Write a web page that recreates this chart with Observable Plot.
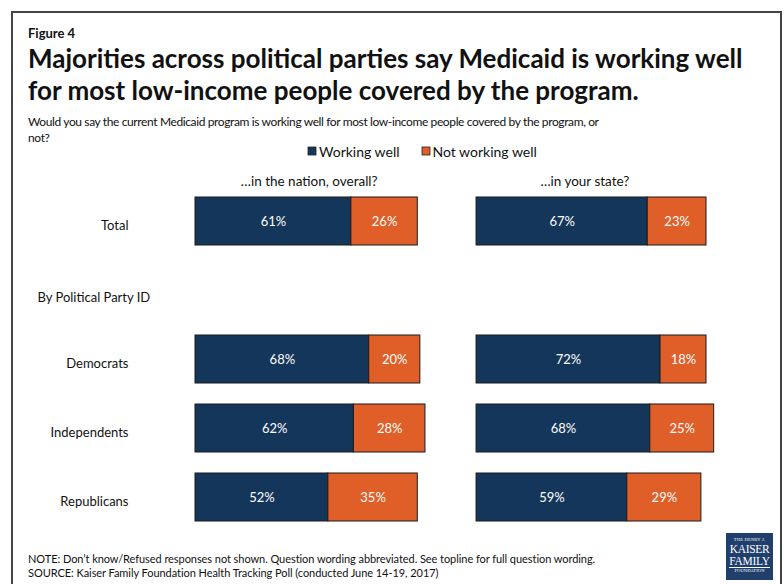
<!DOCTYPE html>
<html>
<head>
<meta charset="utf-8">
<script src="https://cdn.jsdelivr.net/npm/d3@7"></script>
<script src="https://cdn.jsdelivr.net/npm/@observablehq/plot@0.6"></script>
<style>
  html, body { margin: 0; padding: 0; background: #fff; }
  body { width: 784px; height: 584px; position: relative; overflow: hidden; font-family: Lato, sans-serif; color: #111; }
  .abs { position: absolute; white-space: nowrap; }
  #frame { position: absolute; left: 11px; top: 11px; width: 767px; height: 620px; border: 2px solid #444; }
  #fig { left: 28px; top: 24.5px; font-size: 13px; line-height: 16px; font-weight: 700; }
  #title { left: 28px; top: 42.2px; font-size: 26px; line-height: 32px; font-weight: 700; }
  #sub { left: 28px; top: 113.8px; font-size: 12px; line-height: 16.6px; letter-spacing: -0.38px; }
  #legend { left: 308px; top: 134.5px; }
  #legend [class$="-swatch"] { margin-right: 22px !important; }
  #legend svg { margin-right: 3px !important; }
  #legend svg rect { stroke: #222; stroke-width: 0.8px; }
  #chart { left: 0; top: 160px; }
  #note { left: 28px; top: 552px; font-size: 11px; line-height: 13.5px; letter-spacing: -0.06px; }
  #logo { left: 726px; top: 533px; width: 47px; height: 47px; background: #213f6c; color: #fff; font-family: "Liberation Serif", serif; text-align: center; overflow: hidden; }
  #logo .s { font-size: 4.5px; line-height: 7px; letter-spacing: 0.2px; margin-top: 3px; }
  #logo .b { font-size: 11.5px; line-height: 12px; letter-spacing: -0.3px; }
  #logo .f { font-size: 4.5px; line-height: 6px; letter-spacing: 0.1px; border-top: 0.5px solid #fff; margin: 0 3px 0; }
  g[aria-label="header"] text, g[aria-label="section"] text { text-decoration: underline; }
</style>
</head>
<body>
<div id="frame"></div>
<div id="fig" class="abs">Figure 4</div>
<div id="title" class="abs">Majorities across political parties say Medicaid is working well<br>for most low-income people covered by the program.</div>
<div id="sub" class="abs">Would you say the current Medicaid program is working well for most low-income people covered by the program, or<br>not?</div>
<div id="legend" class="abs"></div>
<div id="chart" class="abs"></div>
<div id="note" class="abs">NOTE: Don’t know/Refused responses not shown. Question wording abbreviated. See topline for full question wording.<br>SOURCE: Kaiser Family Foundation Health Tracking Poll (conducted June 14-19, 2017)</div>
<div id="logo" class="abs"><div class="s">THE HENRY J.</div><div class="b">KAISER</div><div class="b">FAMILY</div><div class="f">FOUNDATION</div></div>
<script>
const groups = ["Total", "Democrats", "Independents", "Republicans"];
const sectionLabel = "By Political Party ID";
const questions = ["…in the nation, overall?", "…in your state?"];
const responses = ["Working well", "Not working well"];
const nationWorking = [61, 68, 62, 52];
const nationNot = [26, 20, 28, 35];
const stateWorking = [67, 72, 68, 59];
const stateNot = [23, 18, 25, 29];
const colors = ["#15365b", "#e05e28"];

const panelOffset = [0, 110];          // panel start on the shared x scale
const headerX = [44.5, 152.4];         // header centers on the shared x scale
const yDomain = ["Total", "gap", "Democrats", "Independents", "Republicans"];

const series = [[nationWorking, nationNot], [stateWorking, stateNot]];
const rows = [];
questions.forEach((q, qi) => {
  groups.forEach((g, gi) => {
    let start = panelOffset[qi];
    responses.forEach((r, ri) => {
      const v = series[qi][ri][gi];
      rows.push({question: q, group: g, response: r, value: v, x1: start, x2: start + v});
      start += v;
    });
  });
});

const pxPerPct = 2.555;
const width = 784, marginLeft = 195;
const xMax = 210;
const marginRight = width - marginLeft - xMax * pxPerPct;

const chart = Plot.plot({
  width,
  height: 382,
  marginLeft,
  marginRight,
  marginTop: 16,
  marginBottom: 0,
  style: {fontFamily: "Lato, sans-serif", color: "#111", background: "transparent"},
  x: {domain: [0, xMax], axis: null},
  y: {domain: yDomain, padding: 0.3, axis: null},
  color: {domain: responses, range: colors},
  marks: [
    Plot.barX(rows, {x1: "x1", x2: "x2", y: "group", fill: "response", stroke: "#1b1b1b", strokeWidth: 1}),
    Plot.text(rows, {x: d => (d.x1 + d.x2) / 2, y: "group", text: d => d.value + "%", fill: "white", fontSize: 13}),
    Plot.text(groups, {y: d => d, frameAnchor: "left", dx: -67, dy: 4, textAnchor: "end", fontSize: 13, fill: "#111"}),
    Plot.text([sectionLabel], {y: () => "gap", frameAnchor: "left", dx: -158, dy: 7, textAnchor: "start", fontSize: 13, fill: "#111", ariaLabel: "section"}),
    Plot.text(questions, {x: (d, i) => headerX[i], frameAnchor: "top", lineAnchor: "middle", dy: 5, fontSize: 13.5, fill: "#111", ariaLabel: "header"})
  ]
});
document.getElementById("chart").appendChild(chart);

const legend = Plot.legend({
  color: {domain: responses, range: colors},
  swatchSize: 8,
  style: {fontFamily: "Lato, sans-serif", fontSize: "14px", color: "#111"}
});
document.getElementById("legend").appendChild(legend);
</script>
</body>
</html>
